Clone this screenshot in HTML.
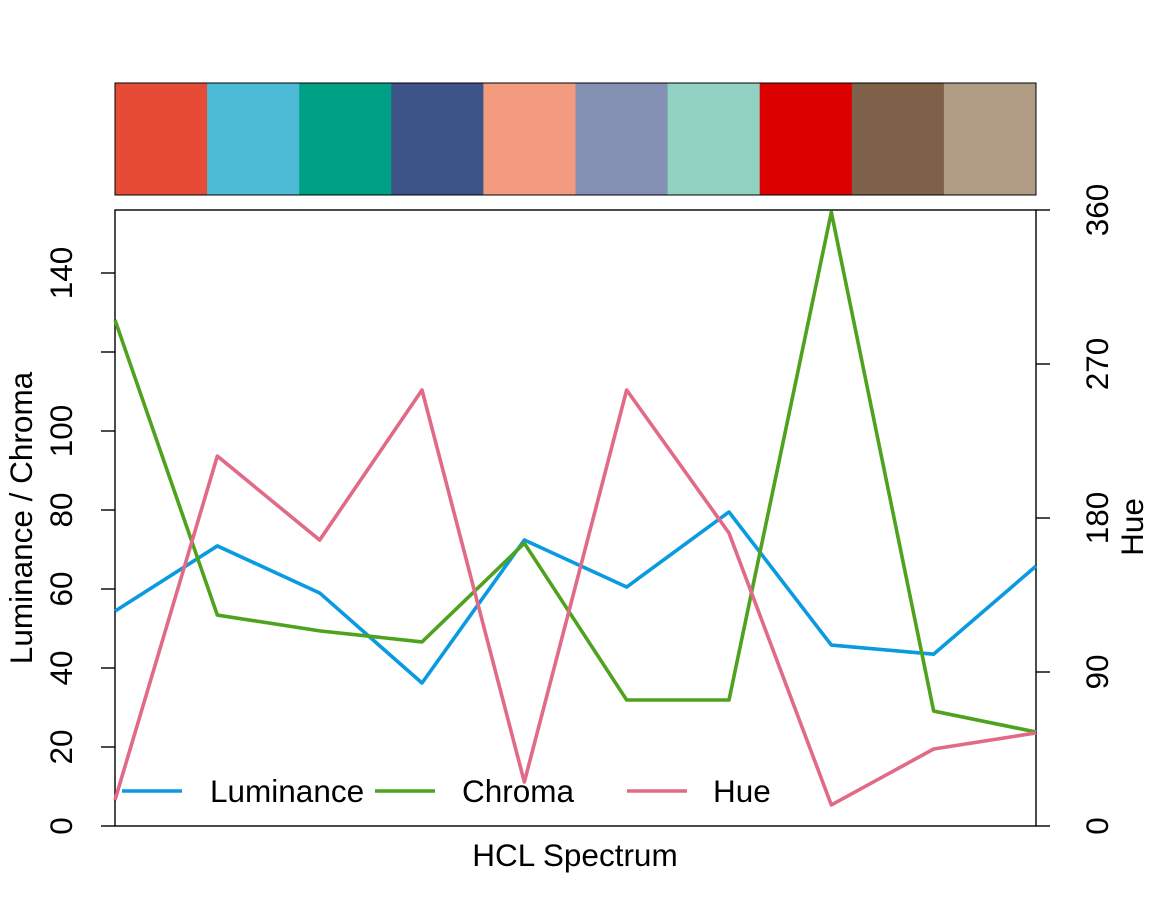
<!DOCTYPE html>
<html><head><meta charset="utf-8"><style>
body{margin:0;background:#fff;}
svg text{font-family:"Liberation Sans",sans-serif;fill:#000;}
</style></head><body>
<svg id="c" width="1152" height="912" xmlns="http://www.w3.org/2000/svg"></svg>
<script>
const swatchColors=["#E64B35","#4DBBD5","#00A087","#3C5488","#F39B7F","#8491B4","#91D1C2","#DC0000","#7E6148","#B09C85"];
const luminance=[54.4,70.9,59.0,36.2,72.4,60.5,79.5,45.8,43.5,65.8];
const chroma=[128.1,53.4,49.4,46.6,71.6,31.9,31.9,155.4,29.1,23.8];
const hue=[15.2,216.2,167.1,254.8,25.7,254.8,171.2,12.3,45.0,54.4];
const leftTicks=[0,20,40,60,80,100,120,140];
const leftLabels=["0","20","40","60","80","100","","140"];
const rightTicks=[0,90,180,270,360];
const NS="http://www.w3.org/2000/svg";
const svg=document.getElementById('c');
const X0=115,X1=1036,Y0=826,Y1=210;
const FS=31.5;
const xs=i=>X0+i*(X1-X0)/(luminance.length-1);
const yl=v=>Y0-v*(Y0-273)/140;
const yr=v=>Y0-v*(Y0-Y1)/360;
function el(t,a,txt){const e=document.createElementNS(NS,t);for(const k in a)e.setAttribute(k,a[k]);if(txt!=null)e.textContent=txt;svg.appendChild(e);return e;}
const sw=(X1-X0)/swatchColors.length;
swatchColors.forEach((c,i)=>{const r=el('rect',{x:X0+i*sw,y:83,width:sw+0.5,height:112,fill:c});

});
const sb=el('rect',{x:X0,y:83,width:X1-X0,height:112,fill:'none',stroke:'#000','stroke-width':1});


const pb=el('rect',{x:X0,y:Y1,width:X1-X0,height:Y0-Y1,fill:'none',stroke:'#000','stroke-width':1.4});


leftTicks.forEach((v,i)=>{el('line',{x1:X0,x2:X0-14,y1:yl(v),y2:yl(v),stroke:'#000','stroke-width':1.4});
if(leftLabels[i]){const t=el('text',{x:72,y:yl(v),'font-size':FS,'text-anchor':'middle',transform:`rotate(-90 72 ${yl(v)})`},leftLabels[i]);

}});
rightTicks.forEach(v=>{el('line',{x1:X1,x2:X1+14,y1:yr(v),y2:yr(v),stroke:'#000','stroke-width':1.4});
const t=el('text',{x:1108,y:yr(v),'font-size':FS,'text-anchor':'middle',transform:`rotate(-90 1108 ${yr(v)})`},String(v));

});
const t1=el('text',{x:32,y:518,'font-size':FS,'text-anchor':'middle',transform:'rotate(-90 32 518)'},'Luminance / Chroma');


const t2=el('text',{x:1143,y:527,'font-size':FS,'text-anchor':'middle',transform:'rotate(-90 1143 527)'},'Hue');


const t3=el('text',{x:575,y:866,'font-size':FS,'text-anchor':'middle'},'HCL Spectrum');


function line(vals,f,col,name){const p=el('polyline',{points:vals.map((v,i)=>xs(i)+','+f(v)).join(' '),fill:'none',stroke:col,'stroke-width':3.6,'stroke-linejoin':'round'});

}
line(luminance,yl,'#0A9AE0','luminance-line');
line(chroma,yl,'#4FA21E','chroma-line');
line(hue,yr,'#E16A86','hue-line');
[["Luminance","#0A9AE0",122,210],["Chroma","#4FA21E",375,462],["Hue","#E16A86",627,713]].forEach(([n,c,lx,tx])=>{
el('line',{x1:lx,x2:lx+60,y1:791,y2:791,stroke:c,'stroke-width':3.6});
const t=el('text',{x:tx,y:802,'font-size':FS},n);

});
</script>
</body></html>
